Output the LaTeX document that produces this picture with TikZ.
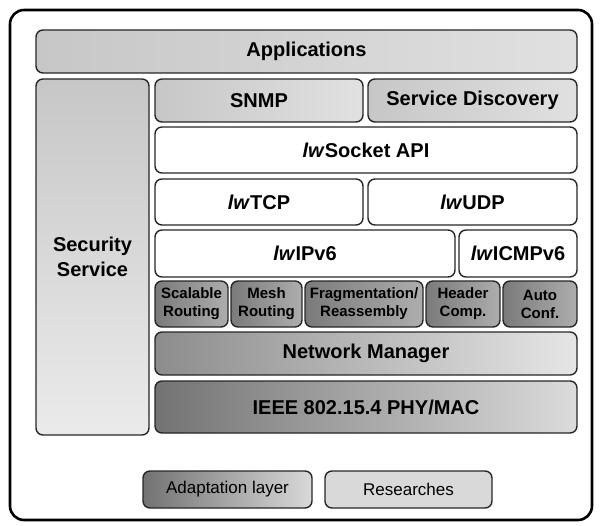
\documentclass[tikz,border=0pt]{standalone}
\usepackage{fontspec}
\setmainfont{Liberation Sans}

\tikzset{
  layer/.style={draw=black!85, line width=1.4pt, rounded corners=7pt, inner sep=0pt,
                align=center, font=\fontsize{20}{25}\selectfont\bfseries},
  light/.style={layer, left color=black!22, right color=black!12},
  plain/.style={layer, fill=white},
  adapt/.style={layer, left color=black!55, right color=black!14},
  smallbox/.style={layer, left color=black!52, right color=black!32,
                   font=\fontsize{15}{18}\selectfont\bfseries},
  legend/.style={layer, font=\fontsize{17}{20}\selectfont},
}

% box from corners: style, name, x1, y1, x2, y2, text
\newcommand{\blk}[7]{%
  \node[#1, minimum width={#5-#3}, minimum height={#6-#4}]
    (#2) at ({(#3+#5)/2},{(#4+#6)/2}) {#7};}

\begin{document}
\begin{tikzpicture}[x=1pt, y=-1pt]
  \useasboundingbox (0,0) rectangle (601,526);

  % ramme
  \draw[line width=2.6pt, rounded corners=14pt] (10,10) rectangle (592,520);

  % parametre
  \def\R{577} % right edge
  \def\L{155} % left edge of stack

  % top
  \blk{light}{apps}{36}{30}{\R}{73}{Applications}
  \blk{layer, top color=black!22, bottom color=black!8}{sec}{36}{79}{149}{435}{Security\\Service}

  % application layer
  \blk{light}{snmp}{\L}{79}{363}{122}{SNMP}
  \blk{light}{disc}{368}{79}{\R}{122}{Service Discovery}

  % transport and network
  \blk{plain}{sock}{\L}{127}{\R}{173}{\textit{lw}Socket API}
  \blk{plain}{tcp}{\L}{179}{363}{225}{\textit{lw}TCP}
  \blk{plain}{udp}{368}{179}{\R}{225}{\textit{lw}UDP}
  \blk{plain}{ipv}{\L}{230}{455}{277}{\textit{lw}IPv6}
  \blk{plain}{icmp}{459}{230}{\R}{277}{\textit{lw}ICMPv6}

  % adaptation layer
  \blk{smallbox}{scal}{\L}{281}{228}{327}{Scalable\\Routing}
  \blk{smallbox}{mesh}{231}{281}{302}{327}{Mesh\\Routing}
  \blk{smallbox}{frag}{305}{281}{423}{327}{Fragmentation/\\Reassembly}
  \blk{smallbox}{head}{426}{281}{500}{327}{Header\\Comp.}
  \blk{smallbox}{auto}{503}{281}{\R}{327}{Auto\\Conf.}
  \blk{adapt, left color=black!45, right color=black!10}{nman}{\L}{332}{\R}{375}{Network Manager}
  \blk{adapt}{phy}{\L}{381}{\R}{433}{IEEE 802.15.4 PHY/MAC}

  % forklaring
  \blk{legend, left color=black!55, right color=black!15}{lgad}{143}{471}{312}{508}{Adaptation layer}
  \blk{legend, fill=black!15}{lgres}{325}{471}{492}{508}{Researches}
\end{tikzpicture}
\end{document}
